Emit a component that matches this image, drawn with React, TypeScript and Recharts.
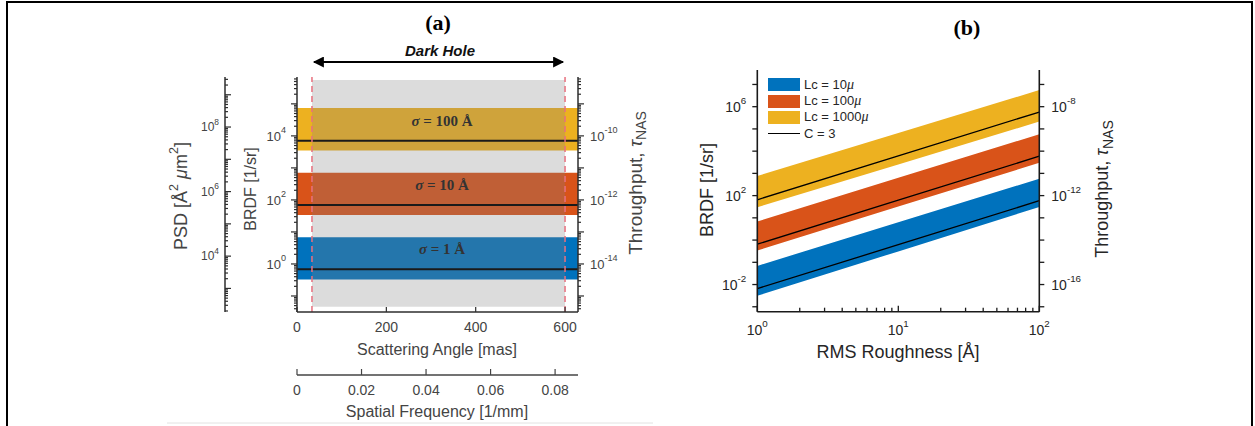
import React from 'react';
import { ComposedChart, Area, Line, XAxis, YAxis, ReferenceLine, Legend } from 'recharts';

// ---------------- Panel (a) data ----------------
const aAngleMas = [0, 629];
const aSigmaLabels = ['100', '10', '1'];
const aBandLow = [3500, 34, 0.33];
const aBandHigh = [74000, 710, 6.8];
const aBandCenter = [7100, 69, 0.68];
const aDarkHoleMas = [33.5, 600];
const aDarkHoleBrdf = [0.046, 560000];
const aAngleTicks = [0, 200, 400, 600];
const aFreqTicks = [0, 0.02, 0.04, 0.06, 0.08];
const aBrdfLabelTicks = [1, 100, 10000];
const aPsdLabelTicks = [1e4, 1e6, 1e8];
const aTauLabelTicks = [1e-14, 1e-12, 1e-10];

// ---------------- Panel (b) data ----------------
const bRoughness = [1, 10, 100];
const bLc10Low = [0.0031, 0.31, 31];
const bLc10High = [0.069, 6.3, 575];
const bLc10C3 = [0.0066, 0.62, 59];
const bLc100Low = [0.34, 32, 3000];
const bLc100High = [6.8, 630, 57500];
const bLc100C3 = [0.65, 63, 5900];
const bLc1000Low = [30, 2500, 214000];
const bLc1000High = [767, 66000, 5600000];
const bLc1000C3 = [65, 6200, 575000];
const bLegendLabels = ['Lc = 10', 'Lc = 100', 'Lc = 1000', 'C = 3'];
const bXLabelTicks = [1, 10, 100];
const bBrdfLabelTicks = [0.01, 100, 1e6];
const bTauLabelTicks = [1e-16, 1e-12, 1e-8];

// ---------------- axis ranges & styles ----------------
const aAngleDomain = [0, 629];
const aFreqDomain = [0, 0.0871];
const aBrdfDomain = [0.0316, 690000];
const aPsdDomain = [186, 3.55e9];
const aTauDomain = [3.16e-16, 6.9e-9];
const bXDomain = [1, 100];
const bBrdfDomain = [6.0e-4, 4.47e7];
const bTauDomain = [6.0e-18, 4.47e-7];

const COLORS = ['#EDB120', '#D95319', '#0072BD'];
const bColors = ['#0072BD', '#D95319', '#EDB120'];
const FONT = '"Liberation Sans", Arial, Helvetica, sans-serif';
const SERIF = '"Liberation Serif", "Times New Roman", serif';
const A_TEXT = '#444444';
const A_AXIS = '#2e2e2e';
const B_TEXT = '#262626';
const B_AXIS = '#1a1a1a';

const isDecade = (v: number) => Math.abs(Math.log10(v) - Math.round(Math.log10(v))) < 1e-6;
const near = (a: number, b: number) => Math.abs(a - b) <= 1e-6 * Math.max(Math.abs(a), Math.abs(b), 1e-30);

const logTicks = (lo: number, hi: number, withMinor: boolean) => {
  const out: number[] = [];
  const e0 = Math.floor(Math.log10(lo));
  const e1 = Math.ceil(Math.log10(hi));
  for (let e = e0; e <= e1; e++) {
    const ms = withMinor ? [1, 2, 3, 4, 5, 6, 7, 8, 9] : [1];
    for (const m of ms) {
      const v = m * Math.pow(10, e);
      if (v >= lo * (1 - 1e-9) && v <= hi * (1 + 1e-9)) out.push(v);
    }
  }
  return out;
};

type TickCfg = {
  side: 'left' | 'right' | 'top' | 'bottom';
  inward: boolean;
  majorLen: number;
  minorLen: number;
  log: boolean;
  labels: number[];
  gap: number;
  fontSize: number;
  color: string;
  stroke: string;
  strokeWidth: number;
  pow: boolean;
};

const makeTick = (c: TickCfg) => (props: any) => {
  const { x, y, payload } = props;
  const v = payload.value as number;
  const major = c.log ? isDecade(v) : true;
  const len = major ? c.majorLen : c.minorLen;
  const labeled = c.labels.some((l) => near(l, v));
  let x2 = x;
  let y2 = y;
  if (c.side === 'left') x2 = x + (c.inward ? len : -len);
  if (c.side === 'right') x2 = x + (c.inward ? -len : len);
  if (c.side === 'top') y2 = y + (c.inward ? len : -len);
  if (c.side === 'bottom') y2 = y + (c.inward ? -len : len);
  let tx = x;
  let ty = y;
  let anchor: 'start' | 'middle' | 'end' = 'middle';
  if (c.side === 'left') { tx = x - c.gap; anchor = 'end'; }
  if (c.side === 'right') { tx = x + c.gap; anchor = 'start'; }
  if (c.side === 'bottom') { ty = y + c.gap; }
  if (c.side === 'top') { ty = y - c.gap; }
  let label: any = null;
  if (labeled) {
    if (c.pow) {
      const e = Math.round(Math.log10(v));
      label = (
        <text x={tx} y={ty} textAnchor={anchor} dominantBaseline="central" fontSize={c.fontSize} fill={c.color} fontFamily={FONT}>
          <tspan>10</tspan>
          <tspan dy={-c.fontSize * 0.45} fontSize={c.fontSize * 0.7}>{String(e)}</tspan>
        </text>
      );
    } else {
      label = (
        <text x={tx} y={ty} textAnchor={anchor} dominantBaseline="central" fontSize={c.fontSize} fill={c.color} fontFamily={FONT}>
          {String(v)}
        </text>
      );
    }
  }
  return (
    <g>
      {len > 0 && <line x1={x} y1={y} x2={x2} y2={y2} stroke={c.stroke} strokeWidth={c.strokeWidth} />}
      {label}
    </g>
  );
};

// ---------------- Panel (a) derived tables ----------------
const aBands = aBandLow.map((lo, i) =>
  aAngleMas.map((ang) => ({ angle: ang, range: [lo, aBandHigh[i]], center: aBandCenter[i] }))
);
const aDarkHole = aDarkHoleMas.map((ang) => ({ angle: ang, range: [aDarkHoleBrdf[0], aDarkHoleBrdf[1]] }));

// ---------------- Panel (b) derived table ----------------
const bData = bRoughness.map((r, i) => ({
  r,
  lc10: [bLc10Low[i], bLc10High[i]],
  lc100: [bLc100Low[i], bLc100High[i]],
  lc1000: [bLc1000Low[i], bLc1000High[i]],
  c10: bLc10C3[i],
  c100: bLc100C3[i],
  c1000: bLc1000C3[i],
}));

const aCommonTick = { fontSize: 13, color: A_TEXT, stroke: A_AXIS, strokeWidth: 1.2 };
const aAngleTick = makeTick({ side: 'bottom', inward: true, majorLen: 5, minorLen: 5, log: false, labels: aAngleTicks, gap: 15, pow: false, ...aCommonTick, fontSize: 14 });
const aTopTick = makeTick({ side: 'top', inward: true, majorLen: 5, minorLen: 5, log: false, labels: [], gap: 0, pow: false, ...aCommonTick });
const aFreqTick = makeTick({ side: 'bottom', inward: true, majorLen: 6, minorLen: 6, log: false, labels: aFreqTicks, gap: 15, pow: false, ...aCommonTick, fontSize: 14, stroke: '#444' });
const aBrdfTick = makeTick({ side: 'left', inward: false, majorLen: 6, minorLen: 3, log: true, labels: aBrdfLabelTicks, gap: 11, pow: true, ...aCommonTick });
const aPsdTick = makeTick({ side: 'left', inward: true, majorLen: 6, minorLen: 3, log: true, labels: aPsdLabelTicks, gap: 6, pow: true, ...aCommonTick, fontSize: 12 });
const aTauTick = makeTick({ side: 'right', inward: false, majorLen: 6, minorLen: 3, log: true, labels: aTauLabelTicks, gap: 12, pow: true, ...aCommonTick });

const bCommonTick = { fontSize: 14, color: B_TEXT, stroke: B_AXIS, strokeWidth: 1.3, pow: true };
const bXTick = makeTick({ side: 'bottom', inward: true, majorLen: 6, minorLen: 4, log: true, labels: bXLabelTicks, gap: 18, ...bCommonTick });
const bTopTick = makeTick({ side: 'top', inward: true, majorLen: 4, minorLen: 2, log: true, labels: [], gap: 0, ...bCommonTick });
const bBrdfTick = makeTick({ side: 'left', inward: false, majorLen: 5, minorLen: 5, log: true, labels: bBrdfLabelTicks, gap: 11, ...bCommonTick });
const bTauTick = makeTick({ side: 'right', inward: false, majorLen: 5, minorLen: 5, log: true, labels: bTauLabelTicks, gap: 12, ...bCommonTick });

const BLegend = () => (
  <div style={{ fontFamily: FONT, fontSize: 13, color: B_TEXT }}>
    {bLegendLabels.map((lab, i) => (
      <div key={lab} style={{ display: 'flex', alignItems: 'center', height: 16.4 }}>
        {i < 3 ? (
          <div style={{ width: 32, height: 13, background: bColors[i] }} />
        ) : (
          <div style={{ width: 32, height: 0, borderTop: '1.4px solid #000' }} />
        )}
        <span style={{ marginLeft: 4, whiteSpace: 'nowrap' }}>
          {lab}
          {i < 3 && <i style={{ fontFamily: SERIF, fontSize: 14 }}>μ</i>}
        </span>
      </div>
    ))}
  </div>
);

function PanelA() {
  return (
    <div style={{ position: 'absolute', left: 160, top: 0 }}>
      <ComposedChart width={500} height={426} margin={{ top: 77, right: 32, bottom: 11, left: 15 }}>
        <XAxis xAxisId="ang" type="number" dataKey="angle" scale="linear" domain={aAngleDomain} allowDataOverflow ticks={aAngleTicks} interval={0}
          orientation="bottom" height={63} tickSize={0} tickMargin={0} tickLine={false}
          axisLine={{ stroke: A_AXIS, strokeWidth: 1.5 }} tick={aAngleTick} />
        <XAxis xAxisId="freq" type="number" dataKey="freq" scale="linear" domain={aFreqDomain} allowDataOverflow ticks={aFreqTicks} interval={0}
          orientation="bottom" height={40} tickSize={0} tickMargin={0} tickLine={false}
          axisLine={{ stroke: '#444', strokeWidth: 1.5 }} tick={aFreqTick} />
        <XAxis xAxisId="top" type="number" dataKey="angle" scale="linear" domain={aAngleDomain} allowDataOverflow ticks={aAngleTicks} interval={0}
          orientation="top" height={0} tickSize={0} tickMargin={0} tickLine={false}
          axisLine={{ stroke: A_AXIS, strokeWidth: 1.5 }} tick={aTopTick} />
        <YAxis yAxisId="brdf" orientation="left" width={72} type="number" scale="log" domain={aBrdfDomain} allowDataOverflow
          ticks={logTicks(aBrdfDomain[0], aBrdfDomain[1], true)} interval={0} tickSize={0} tickMargin={0} tickLine={false}
          axisLine={{ stroke: A_AXIS, strokeWidth: 1.5 }} tick={aBrdfTick} />
        <YAxis yAxisId="psd" orientation="left" width={50} type="number" scale="log" domain={aPsdDomain} allowDataOverflow
          ticks={logTicks(aPsdDomain[0], aPsdDomain[1], true)} interval={0} tickSize={0} tickMargin={0} tickLine={false}
          axisLine={{ stroke: A_AXIS, strokeWidth: 1.5 }} tick={aPsdTick} />
        <YAxis yAxisId="tau" orientation="right" width={50} type="number" scale="log" domain={aTauDomain} allowDataOverflow
          ticks={logTicks(aTauDomain[0], aTauDomain[1], true)} interval={0} tickSize={0} tickMargin={0} tickLine={false}
          axisLine={{ stroke: A_AXIS, strokeWidth: 1.5 }} tick={aTauTick} />
        {aBands.map((d, i) => (
          <Area key={'band' + i} data={d} xAxisId="ang" yAxisId="brdf" dataKey="range" type="linear"
            fill={COLORS[i]} fillOpacity={1} stroke="none" isAnimationActive={false} />
        ))}
        <Area data={aDarkHole} xAxisId="ang" yAxisId="brdf" dataKey="range" type="linear"
          fill="#808080" fillOpacity={0.28} stroke="none" isAnimationActive={false} />
        {aBands.map((d, i) => (
          <Line key={'line' + i} data={d} xAxisId="ang" yAxisId="brdf" dataKey="center" type="linear"
            stroke="#1a1a1a" strokeWidth={2} dot={false} isAnimationActive={false} />
        ))}
        {aDarkHoleMas.map((m) => (
          <ReferenceLine key={'dh' + m} x={m} xAxisId="ang" yAxisId="brdf" stroke="#E8707E" strokeWidth={1.5} strokeDasharray="6 4" />
        ))}
      </ComposedChart>
    </div>
  );
}

function PanelB() {
  return (
    <div style={{ position: 'absolute', left: 680, top: 0 }}>
      <ComposedChart width={480} height={426} data={bData} margin={{ top: 70, right: 60.7, bottom: 84.3, left: 27.3 }}>
        <XAxis xAxisId="r" type="number" dataKey="r" scale="log" domain={bXDomain} allowDataOverflow
          ticks={logTicks(bXDomain[0], bXDomain[1], true)} interval={0} orientation="bottom" height={30}
          tickSize={0} tickMargin={0} tickLine={false} axisLine={{ stroke: B_AXIS, strokeWidth: 1.6 }} tick={bXTick} />
        <XAxis xAxisId="rTop" type="number" dataKey="r" scale="log" domain={bXDomain} allowDataOverflow
          ticks={logTicks(bXDomain[0], bXDomain[1], true)} interval={0} orientation="top" height={0}
          tickSize={0} tickMargin={0} tickLine={false} axisLine={false} tick={bTopTick} />
        <YAxis yAxisId="brdf" orientation="left" width={50} type="number" scale="log" domain={bBrdfDomain} allowDataOverflow
          ticks={logTicks(bBrdfDomain[0], bBrdfDomain[1], false)} interval={0} tickSize={0} tickMargin={0} tickLine={false}
          axisLine={{ stroke: B_AXIS, strokeWidth: 1.6 }} tick={bBrdfTick} />
        <YAxis yAxisId="tau" orientation="right" width={60} type="number" scale="log" domain={bTauDomain} allowDataOverflow
          ticks={logTicks(bTauDomain[0], bTauDomain[1], false)} interval={0} tickSize={0} tickMargin={0} tickLine={false}
          axisLine={{ stroke: B_AXIS, strokeWidth: 1.6 }} tick={bTauTick} />
        <Area xAxisId="r" yAxisId="brdf" dataKey="lc10" type="linear" fill={bColors[0]} fillOpacity={1} stroke="none" isAnimationActive={false} />
        <Area xAxisId="r" yAxisId="brdf" dataKey="lc100" type="linear" fill={bColors[1]} fillOpacity={1} stroke="none" isAnimationActive={false} />
        <Area xAxisId="r" yAxisId="brdf" dataKey="lc1000" type="linear" fill={bColors[2]} fillOpacity={1} stroke="none" isAnimationActive={false} />
        <Line xAxisId="r" yAxisId="brdf" dataKey="c10" type="linear" stroke="#000" strokeWidth={1.3} dot={false} isAnimationActive={false} />
        <Line xAxisId="r" yAxisId="brdf" dataKey="c100" type="linear" stroke="#000" strokeWidth={1.3} dot={false} isAnimationActive={false} />
        <Line xAxisId="r" yAxisId="brdf" dataKey="c1000" type="linear" stroke="#000" strokeWidth={1.3} dot={false} isAnimationActive={false} />
        <Legend layout="vertical" align="center" verticalAlign="middle" content={() => <BLegend />}
          wrapperStyle={{ left: 88, top: 76.5, width: 'auto', height: 'auto' }} />
      </ComposedChart>
    </div>
  );
}

function Overlay() {
  const sigmaY = [120.7, 185, 249.3];
  return (
    <svg width={1255} height={426} style={{ position: 'absolute', left: 0, top: 0, pointerEvents: 'none' }}>
      <defs>
        <marker id="ah" viewBox="0 0 10 10" refX="9" refY="5" markerWidth="5.5" markerHeight="5" orient="auto-start-reverse">
          <path d="M0,0 L10,5 L0,10 z" fill="#000" />
        </marker>
      </defs>
      <text x={438} y={22} textAnchor="middle" dominantBaseline="central" fontFamily={SERIF} fontWeight="bold" fontSize={22} fill="#000">(a)</text>
      <text x={440} y={50} textAnchor="middle" dominantBaseline="central" fontFamily={FONT} fontWeight="bold" fontStyle="italic" fontSize={15} fill="#111">Dark Hole</text>
      <line x1={314} y1={62} x2={563} y2={62} stroke="#000" strokeWidth={2.2} markerStart="url(#ah)" markerEnd="url(#ah)" />
      {aSigmaLabels.map((s, i) => (
        <text key={s} x={442} y={sigmaY[i]} textAnchor="middle" dominantBaseline="central" fontFamily={SERIF} fontWeight="bold" fontSize={15} fill="#333">
          <tspan fontStyle="italic">σ</tspan>
          <tspan>{' = ' + s + ' Å'}</tspan>
        </text>
      ))}
      <text x={437} y={349} textAnchor="middle" dominantBaseline="central" fontFamily={FONT} fontSize={16} fill={A_TEXT}>Scattering Angle [mas]</text>
      <text x={437} y={411} textAnchor="middle" dominantBaseline="central" fontFamily={FONT} fontSize={16} fill={A_TEXT}>Spatial Frequency [1/mm]</text>
      <text x={250} y={189} transform="rotate(-90 250 189)" textAnchor="middle" dominantBaseline="central" fontFamily={FONT} fontSize={16} fill={A_TEXT}>BRDF [1/sr]</text>
      <text x={181} y={196} transform="rotate(-90 181 196)" textAnchor="middle" dominantBaseline="central" fontFamily={FONT} fontSize={18} fill={A_TEXT}>
        <tspan>PSD [Å</tspan>
        <tspan dy={-7} fontSize={12.5}>2</tspan>
        <tspan dy={7}>{' '}</tspan>
        <tspan fontStyle="italic">μ</tspan>
        <tspan>m</tspan>
        <tspan dy={-7} fontSize={12.5}>2</tspan>
        <tspan dy={7}>]</tspan>
      </text>
      <text x={635} y={183} transform="rotate(-90 635 183)" textAnchor="middle" dominantBaseline="central" fontFamily={FONT} fontSize={19} fill={A_TEXT}>
        <tspan>Throughput, </tspan>
        <tspan fontStyle="italic">τ</tspan>
        <tspan dy={6} fontSize={14}>NAS</tspan>
      </text>
      <line x1={167} y1={423} x2={653} y2={423} stroke="#e2e2e2" strokeWidth={1} />
      <text x={967} y={27} textAnchor="middle" dominantBaseline="central" fontFamily={SERIF} fontWeight="bold" fontSize={22} fill="#000">(b)</text>
      <text x={898} y={352} textAnchor="middle" dominantBaseline="central" fontFamily={FONT} fontSize={18} fill={B_TEXT}>RMS Roughness [Å]</text>
      <text x={707} y={190} transform="rotate(-90 707 190)" textAnchor="middle" dominantBaseline="central" fontFamily={FONT} fontSize={18} fill={B_TEXT}>BRDF [1/sr]</text>
      <text x={1102} y={189} transform="rotate(-90 1102 189)" textAnchor="middle" dominantBaseline="central" fontFamily={FONT} fontSize={18} fill={B_TEXT}>
        <tspan>Throughput, </tspan>
        <tspan fontStyle="italic">τ</tspan>
        <tspan dy={6} fontSize={14}>NAS</tspan>
      </text>
    </svg>
  );
}

export default function App() {
  return (
    <div style={{ position: 'absolute', left: 0, top: 0, width: 1255, height: 426, background: '#fff', overflow: 'hidden' }}>
      <div style={{ position: 'absolute', left: 6, top: 1, width: 1243, height: 440, borderTop: '2px solid #000', borderLeft: '2px solid #000', borderRight: '2px solid #000' }} />
      <PanelA />
      <PanelB />
      <Overlay />
    </div>
  );
}
